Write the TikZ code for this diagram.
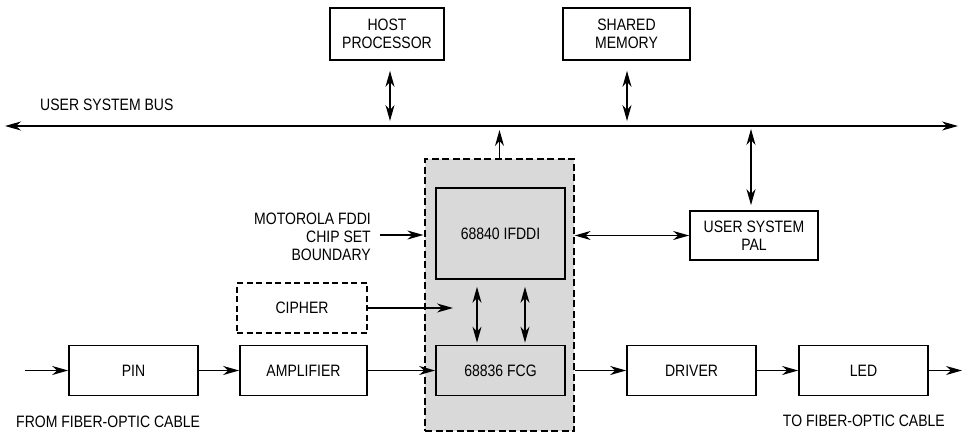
\documentclass[tikz,border=0pt]{standalone}
\usepackage{fontspec}
\setmainfont{Liberation Sans}[FakeStretch=0.85]
\usetikzlibrary{arrows.meta,calc}
\newcommand\fs{\fontsize{16.5}{18}\selectfont}
\definecolor{shade}{gray}{0.85}
\tikzset{
  blk/.style={draw, line width=1.7pt, inner sep=0pt, align=center, font=\fs},
  dblk/.style={blk, dashed, dash pattern=on 6pt off 3.5pt},
  arrF/.style={line width=1.2pt, -{Stealth[length=16pt,width=9pt,inset=5pt]}},
  arrB/.style={line width=1.2pt, {Stealth[length=16pt,width=9pt,inset=5pt]}-{Stealth[length=16pt,width=9pt,inset=5pt]}},
  lbl/.style={font=\fs, inner sep=0pt, align=right}
}
\begin{document}
\begin{tikzpicture}[x=1pt,y=-1pt]
\useasboundingbox (0,0) rectangle (963,433);
% boundary region
\node[draw, line width=1.2pt, dash pattern=on 7pt off 3.5pt, fill=shade, minimum width=149, minimum height=272, inner sep=0pt] (bnd) at (499.5,295) {};
% top boxes
\node[blk, minimum width=114, minimum height=52] (host) at (387,34) {HOST\\PROCESSOR};
\node[blk, minimum width=127, minimum height=52] (shm) at (626.5,34) {SHARED\\MEMORY};
% bus
\coordinate (busL) at (5,126);
\coordinate (busR) at (958,126);
\draw[arrB] (busL) -- (busR);
\node[lbl, anchor=west] (bustxt) at (40,105) {USER SYSTEM BUS};
% chips
\node[blk, fill=shade, minimum width=129, minimum height=91] (ifddi) at (500.5,233.5) {68840 IFDDI};
\node[blk, fill=shade, minimum width=129, minimum height=50] (fcg) at (500.5,370.5) {68836 FCG};
% PAL
\node[blk, minimum width=128, minimum height=49] (pal) at (754,235.5) {USER SYSTEM\\PAL};
% cipher
\node[dblk, minimum width=130, minimum height=50] (ciph) at (302,308) {CIPHER};
% bottom row
\node[blk, minimum width=129, minimum height=50] (pin) at (133.5,370.5) {PIN};
\node[blk, minimum width=127, minimum height=50] (amp) at (303.5,370.5) {AMPLIFIER};
\node[blk, minimum width=129, minimum height=50] (drv) at (691.5,370.5) {DRIVER};
\node[blk, minimum width=129, minimum height=50] (led) at (863.5,370.5) {LED};
% labels
\node[lbl, anchor=east] (moto) at (371,237) {MOTOROLA FDDI\\CHIP SET\\BOUNDARY};
\node[lbl, anchor=west] (from) at (16,422) {FROM FIBER-OPTIC CABLE};
\node[lbl, anchor=east] (to) at (945,421) {TO FIBER-OPTIC CABLE};
% connectors to bus
\draw[arrB] ($(host.south)+(3,10)$) -- ($(host.south |- busL)+(3,-5)$);
\draw[arrB] ($(shm.south)+(0.5,10)$) -- ($(shm.south |- busL)+(0.5,-5)$);
\draw[arrF] (bnd.north) -- ($(bnd.north |- busL)+(0,4)$);
\draw[arrB] ($(pal.north |- busL)+(-3,3)$) -- ($(pal.north)+(-3,-5)$);
% IFDDI - PAL
\draw[arrB] (bnd.east |- pal.west) -- (pal.west);
% motorola arrow
\coordinate (mt) at ($(moto.east)+(9,-2)$);
\draw[arrF] (mt) -- ($(mt -| bnd.west)+(-1,0)$);
% cipher arrow
\coordinate (cend) at (453,308);
\draw[arrF] (ciph.east) -- (cend);
% IFDDI - FCG
\draw[arrB] ($(ifddi.south)+(-23.5,7)$) -- ($(fcg.north)+(-23.5,-2)$);
\draw[arrB] ($(ifddi.south)+(24.5,7)$) -- ($(fcg.north)+(24.5,-2)$);
% bottom row
\coordinate (cin) at (25,370.5);
\coordinate (cout) at (962,370.5);
\draw[arrF] (cin) -- (pin.west);
\draw[arrF] (pin.east) -- (amp.west);
\draw[arrF] (amp.east) -- (fcg.west);
\draw[arrF] (fcg.east -| bnd.east) -- (drv.west);
\draw[arrF] (drv.east) -- (led.west);
\draw[arrF] (led.east) -- (cout);
\end{tikzpicture}
\end{document}
